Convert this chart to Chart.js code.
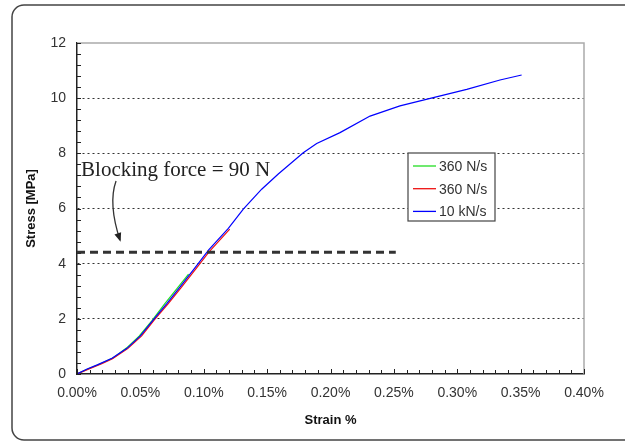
<!DOCTYPE html>
<html>
<head>
<meta charset="utf-8">
<script src="https://cdn.jsdelivr.net/npm/chart.js@4.4.1/dist/chart.umd.min.js"></script>
<style>
  html, body { margin: 0; padding: 0; background: #fff; }
  #wrap { width: 625px; height: 443px; position: relative; }
</style>
</head>
<body>
<div id="wrap"><canvas id="myChart" width="625" height="443"></canvas></div>
<script>
// 데이터 (변형률 %, 응력 MPa)
const seriesLabels = ['360 N/s', '360 N/s', '10 kN/s'];
const seriesColors = ['#22dd22', '#ee1111', '#0000ff'];

const strainGreen = [0, 0.009, 0.019, 0.029, 0.039, 0.049, 0.059, 0.069, 0.079, 0.088];
const stressGreen = [0, 0.19, 0.38, 0.60, 0.94, 1.37, 1.93, 2.53, 3.10, 3.62];

const strainRed = [0, 0.009, 0.020, 0.028, 0.040, 0.051, 0.061, 0.072, 0.082, 0.095, 0.104, 0.1205];
const stressRed = [0, 0.17, 0.38, 0.55, 0.92, 1.38, 1.96, 2.55, 3.12, 3.88, 4.42, 5.25];

const strainBlue = [0, 0.008, 0.016, 0.0276, 0.0394, 0.050, 0.0605, 0.071, 0.0815, 0.0947, 0.1039,
  0.1194, 0.1312, 0.1457, 0.1588, 0.1785, 0.1891, 0.2075, 0.2312, 0.2548, 0.2811, 0.3075, 0.3337, 0.3508];
const stressBlue = [0, 0.18, 0.33, 0.57, 0.93, 1.38, 1.98, 2.56, 3.17, 3.95, 4.50,
  5.28, 5.98, 6.70, 7.25, 8.02, 8.36, 8.75, 9.35, 9.72, 10.02, 10.32, 10.66, 10.84];

// 주석 (데이터 좌표)
const blockingForce = 4.41;      // MPa
const blockingEnd = 0.2515;      // strain %
const blockingText = 'Blocking force = 90 N';
const blockingTextPos = [0.0032, 7.18];
const arrowStart = [0.0308, 7.0];
const arrowMid = [0.0284, 6.06];
const arrowEnd = [0.0339, 4.86];

function toPoints(xs, ys) {
    return xs.map((x, i) => ({ x: x, y: ys[i] }));
}

const stressData = [toPoints(strainGreen, stressGreen), toPoints(strainRed, stressRed), toPoints(strainBlue, stressBlue)];
const drawOrder = [2, 1, 0]; // 파란 선이 맨 위

// 테두리, 보조 눈금, 주석, 범례
const decorPlugin = {
    id: 'decor',
    beforeDraw(chart) {
        const ctx = chart.ctx;
        ctx.save();
        ctx.fillStyle = '#fff';
        ctx.fillRect(0, 0, chart.width, chart.height);
        // 바깥 둥근 테두리
        ctx.strokeStyle = '#444';
        ctx.lineWidth = 1.5;
        ctx.beginPath();
        ctx.roundRect(12, 5, 640, 435, 12);
        ctx.stroke();
        ctx.restore();
    },
    afterDraw(chart) {
        const ctx = chart.ctx;
        const xs = chart.scales.x, ys = chart.scales.y;
        const a = chart.chartArea;
        ctx.save();

        // 위/오른쪽 테두리
        ctx.strokeStyle = '#aaa';
        ctx.lineWidth = 1.5;
        ctx.beginPath();
        ctx.moveTo(a.left, a.top);
        ctx.lineTo(a.right, a.top);
        ctx.lineTo(a.right, a.bottom);
        ctx.stroke();

        // 보조 눈금
        ctx.strokeStyle = '#222';
        ctx.lineWidth = 1;
        for (let i = 0; i <= 30; i++) {
            const py = Math.round(ys.getPixelForValue(i * 0.4)) + 0.5;
            ctx.beginPath();
            ctx.moveTo(a.left, py);
            ctx.lineTo(a.left + 4, py);
            ctx.stroke();
        }
        for (let i = 0; i <= 40; i++) {
            const px = Math.round(xs.getPixelForValue(i * 0.01)) + 0.5;
            ctx.beginPath();
            ctx.moveTo(px, a.bottom);
            ctx.lineTo(px, a.bottom - (i % 5 === 0 ? 5 : 4));
            ctx.stroke();
        }

        // Blocking force 점선
        ctx.strokeStyle = '#333';
        ctx.lineWidth = 3;
        ctx.setLineDash([8, 5]);
        ctx.beginPath();
        const by = ys.getPixelForValue(blockingForce);
        ctx.moveTo(xs.getPixelForValue(0), by);
        ctx.lineTo(xs.getPixelForValue(blockingEnd), by);
        ctx.stroke();
        ctx.setLineDash([]);

        // 텍스트
        ctx.fillStyle = '#222';
        ctx.font = '21px "Liberation Serif", "Times New Roman", serif';
        ctx.textBaseline = 'alphabetic';
        ctx.textAlign = 'left';
        ctx.fillText(blockingText, xs.getPixelForValue(blockingTextPos[0]), ys.getPixelForValue(blockingTextPos[1]));

        // 화살표
        const sx = xs.getPixelForValue(arrowStart[0]), sy = ys.getPixelForValue(arrowStart[1]);
        const mx = xs.getPixelForValue(arrowMid[0]), my = ys.getPixelForValue(arrowMid[1]);
        const ex = xs.getPixelForValue(arrowEnd[0]), ey = ys.getPixelForValue(arrowEnd[1]);
        const cx = 2 * mx - (sx + ex) / 2, cy = 2 * my - (sy + ey) / 2;
        ctx.strokeStyle = '#333';
        ctx.lineWidth = 1.3;
        ctx.beginPath();
        ctx.moveTo(sx, sy);
        ctx.quadraticCurveTo(cx, cy, ex, ey);
        ctx.stroke();
        const ang = Math.atan2(ey - cy, ex - cx);
        ctx.fillStyle = '#222';
        ctx.beginPath();
        ctx.moveTo(ex + 2 * Math.cos(ang), ey + 2 * Math.sin(ang));
        ctx.lineTo(ex - 7 * Math.cos(ang) + 3.5 * Math.sin(ang), ey - 7 * Math.sin(ang) - 3.5 * Math.cos(ang));
        ctx.lineTo(ex - 7 * Math.cos(ang) - 3.5 * Math.sin(ang), ey - 7 * Math.sin(ang) + 3.5 * Math.cos(ang));
        ctx.closePath();
        ctx.fill();

        // 범례
        const lx = a.left + 331, ly = a.top + 110, lw = 87, lh = 68;
        ctx.fillStyle = '#fff';
        ctx.fillRect(lx, ly, lw, lh);
        ctx.strokeStyle = '#444';
        ctx.lineWidth = 1.2;
        ctx.strokeRect(lx, ly, lw, lh);
        ctx.font = '14px "Liberation Sans", Arial, sans-serif';
        ctx.textBaseline = 'middle';
        chart.data.datasets.forEach((ds, i) => {
            const ry = ly + 13 + i * 22.7;
            ctx.strokeStyle = ds.borderColor;
            ctx.lineWidth = 1.3;
            ctx.beginPath();
            ctx.moveTo(lx + 5, ry);
            ctx.lineTo(lx + 28, ry);
            ctx.stroke();
            ctx.fillStyle = '#333';
            ctx.fillText(ds.label, lx + 31, ry + 1);
        });
        ctx.restore();
    }
};

const ctx = document.getElementById('myChart').getContext('2d');
const myChart = new Chart(ctx, {
    type: 'scatter',
    data: {
        datasets: seriesLabels.map((label, i) => ({
            label: label,
            data: stressData[i],
            order: drawOrder[i],
            showLine: true,
            borderColor: seriesColors[i],
            backgroundColor: seriesColors[i],
            borderWidth: 1.2,
            pointRadius: 0,
            tension: 0
        }))
    },
    options: {
        responsive: false,
        animation: false,
        layout: { padding: { top: 43, right: 41, left: 0, bottom: 0 } },
        plugins: {
            legend: { display: false },
            tooltip: { enabled: false }
        },
        scales: {
            x: {
                type: 'linear',
                min: 0,
                max: 0.4,
                afterFit: s => { s.height = 69; },
                ticks: {
                    stepSize: 0.05,
                    padding: 11,
                    color: '#333',
                    font: { family: '"Liberation Sans", Arial, sans-serif', size: 14 },
                    callback: v => v.toFixed(2) + '%'
                },
                grid: { display: false, drawTicks: false },
                border: { display: true, color: '#222', width: 1.5 },
                title: {
                    display: true,
                    text: 'Strain %',
                    color: '#111',
                    font: { family: '"Liberation Sans", Arial, sans-serif', size: 13, weight: 'bold' },
                    padding: { top: 0, bottom: 15 }
                }
            },
            y: {
                min: 0,
                max: 12,
                afterFit: s => { s.width = 77; },
                ticks: {
                    stepSize: 2,
                    padding: 11,
                    color: '#333',
                    font: { family: '"Liberation Sans", Arial, sans-serif', size: 14 }
                },
                grid: {
                    drawTicks: false,
                    lineWidth: 1,
                    color: c => (c.tick && (c.tick.value === 0 || c.tick.value === 12)) ? 'rgba(0,0,0,0)' : '#333'
                },
                border: { display: true, color: '#222', width: 1.5, dash: [2, 3] },
                title: {
                    display: true,
                    text: 'Stress [MPa]',
                    color: '#111',
                    font: { family: '"Liberation Sans", Arial, sans-serif', size: 13, weight: 'bold' },
                    padding: { top: 24, bottom: 0 }
                }
            }
        }
    },
    plugins: [decorPlugin]
});
</script>
</body>
</html>
